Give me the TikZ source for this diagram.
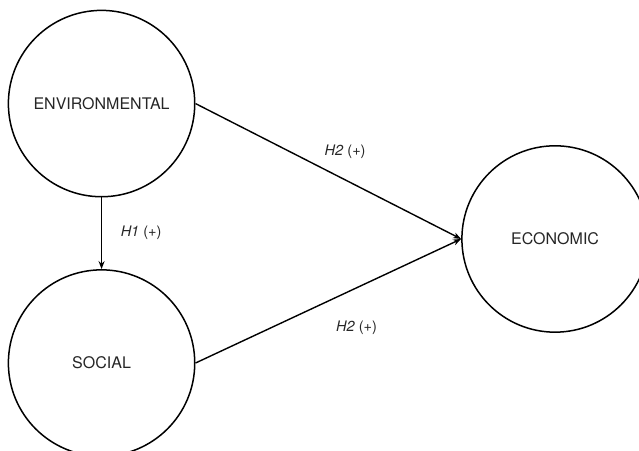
\documentclass[tikz,border=0pt]{standalone}
\usepackage{fontspec}
\setmainfont{TeX Gyre Heros}
\usetikzlibrary{arrows.meta}

\tikzset{
	construct/.style={draw, circle, line width=1.5pt, minimum size=6.55cm, inner sep=0pt, text=black!85, font=\fontsize{16}{19}\selectfont},
	path/.style={line width=1.4pt, -{Stealth[length=8pt, width=6pt]}},
	hyp/.style={text=black!85}
}

\begin{document}
\begin{tikzpicture}[font=\fontsize{14.5}{17}\selectfont]
	\useasboundingbox (0,0) rectangle (22.46,-15.85);
	%constructs
	\node[construct] (env) at (3.57, -3.64) {ENVIRONMENTAL};
	\node[construct] (soc) at (3.57, -12.76) {SOCIAL};
	\node[construct] (eco) at (19.51, -8.40) {ECONOMIC};
	
	%hypotheses
	\draw[path] (env.south) -- (soc.north);
	\draw[path] (env.east) -- (eco.west);
	\draw[path] (soc.east) -- (eco.west);
	
	\node[hyp] (h1) at (4.96, -8.19) {\textit{H1} (+)};
	\node[hyp] (h2a) at (12.13, -5.34) {\textit{H2} (+)};
	\node[hyp] (h2b) at (12.53, -11.53) {\textit{H2} (+)};
\end{tikzpicture}
\end{document}
